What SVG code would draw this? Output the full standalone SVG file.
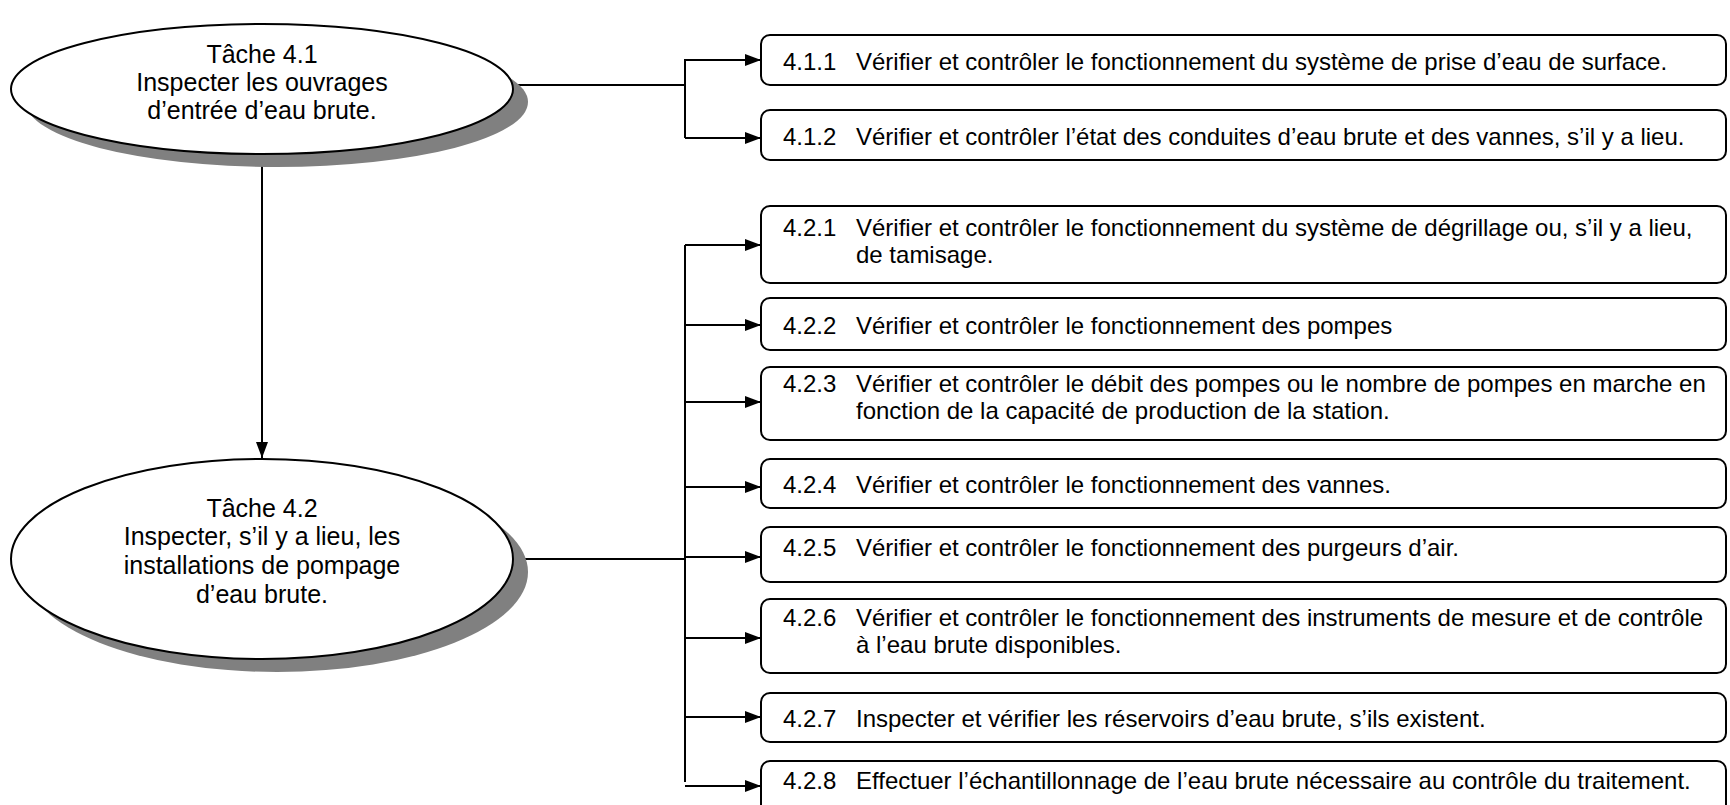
<svg xmlns="http://www.w3.org/2000/svg" width="1730" height="805" viewBox="0 0 1730 805">
  <style>
    text { font-family: "Liberation Sans", Arial, sans-serif; fill: #000; }
    .task { font-size: 25px; text-anchor: middle; }
    .item { font-size: 24px; }
    .oval { fill: #fff; stroke: #000; stroke-width: 2; }
    .shadow { fill: #808080; }
    .box { fill: #fff; stroke: #000; stroke-width: 2; }
    .conn { stroke: #000; stroke-width: 2; fill: none; }
    .arr { marker-end: url(#arrow); }
  </style>
  <defs>
    <marker id="arrow" viewBox="0 0 16 12" refX="16" refY="6" markerWidth="16" markerHeight="12" markerUnits="userSpaceOnUse" orient="auto">
      <path d="M0,0 L16,6 L0,12 Z" fill="#000"/>
    </marker>
  </defs>

  <!-- connectors -->
  <g id="connectors">
    <!-- task 4.1 to its sub-items -->
    <path class="conn" d="M513,85 H685"/>
    <path class="conn" d="M685,59 V138"/>
    <path class="conn arr" d="M685,60 H761"/>
    <path class="conn arr" d="M685,138 H761"/>
    <!-- task 4.1 to task 4.2 -->
    <path class="conn arr" d="M262,154 V458"/>
    <!-- task 4.2 to its sub-items -->
    <path class="conn" d="M513,559 H685"/>
    <path class="conn" d="M685,245 V782"/>
    <path class="conn arr" d="M685,245 H761"/>
    <path class="conn arr" d="M685,325 H761"/>
    <path class="conn arr" d="M685,402 H761"/>
    <path class="conn arr" d="M685,487 H761"/>
    <path class="conn arr" d="M685,557 H761"/>
    <path class="conn arr" d="M685,638 H761"/>
    <path class="conn arr" d="M685,717 H761"/>
    <path class="conn arr" d="M685,786 H761"/>
  </g>

  <!-- task ovals -->
  <g id="task-4-1">
    <ellipse class="shadow" cx="277" cy="102" rx="251" ry="65"/>
    <ellipse class="oval" cx="262" cy="89" rx="251" ry="65"/>
    <text class="task" x="262" y="63">Tâche 4.1</text>
    <text class="task" x="262" y="91">Inspecter les ouvrages</text>
    <text class="task" x="262" y="119">d’entrée d’eau brute.</text>
  </g>

  <g id="task-4-2">
    <ellipse class="shadow" cx="277" cy="572" rx="251" ry="100"/>
    <ellipse class="oval" cx="262" cy="559" rx="251" ry="100"/>
    <text class="task" x="262" y="517">Tâche 4.2</text>
    <text class="task" x="262" y="545">Inspecter, s’il y a lieu, les</text>
    <text class="task" x="262" y="574">installations de pompage</text>
    <text class="task" x="262" y="603">d’eau brute.</text>
  </g>

  <!-- sub-item boxes -->
  <g id="item-4-1-1">
    <rect class="box" x="761" y="35" width="965" height="50" rx="9"/>
    <text class="item" x="783" y="70">4.1.1</text>
    <text class="item" x="856" y="70">Vérifier et contrôler le fonctionnement du système de prise d’eau de surface.</text>
  </g>
  <g id="item-4-1-2">
    <rect class="box" x="761" y="110" width="965" height="50" rx="9"/>
    <text class="item" x="783" y="145">4.1.2</text>
    <text class="item" x="856" y="145">Vérifier et contrôler l’état des conduites d’eau brute et des vannes, s’il y a lieu.</text>
  </g>
  <g id="item-4-2-1">
    <rect class="box" x="761" y="206" width="965" height="77" rx="9"/>
    <text class="item" x="783" y="236">4.2.1</text>
    <text class="item" x="856" y="236">Vérifier et contrôler le fonctionnement du système de dégrillage ou, s’il y a lieu,</text>
    <text class="item" x="856" y="263">de tamisage.</text>
  </g>
  <g id="item-4-2-2">
    <rect class="box" x="761" y="298" width="965" height="52" rx="9"/>
    <text class="item" x="783" y="334">4.2.2</text>
    <text class="item" x="856" y="334">Vérifier et contrôler le fonctionnement des pompes</text>
  </g>
  <g id="item-4-2-3">
    <rect class="box" x="761" y="367" width="965" height="73" rx="9"/>
    <text class="item" x="783" y="392">4.2.3</text>
    <text class="item" x="856" y="392">Vérifier et contrôler le débit des pompes ou le nombre de pompes en marche en</text>
    <text class="item" x="856" y="419">fonction de la capacité de production de la station.</text>
  </g>
  <g id="item-4-2-4">
    <rect class="box" x="761" y="459" width="965" height="49" rx="9"/>
    <text class="item" x="783" y="493">4.2.4</text>
    <text class="item" x="856" y="493">Vérifier et contrôler le fonctionnement des vannes.</text>
  </g>
  <g id="item-4-2-5">
    <rect class="box" x="761" y="527" width="965" height="55" rx="9"/>
    <text class="item" x="783" y="556">4.2.5</text>
    <text class="item" x="856" y="556">Vérifier et contrôler le fonctionnement des purgeurs d’air.</text>
  </g>
  <g id="item-4-2-6">
    <rect class="box" x="761" y="599" width="965" height="74" rx="9"/>
    <text class="item" x="783" y="626">4.2.6</text>
    <text class="item" x="856" y="626">Vérifier et contrôler le fonctionnement des instruments de mesure et de contrôle</text>
    <text class="item" x="856" y="653">à l’eau brute disponibles.</text>
  </g>
  <g id="item-4-2-7">
    <rect class="box" x="761" y="693" width="965" height="49" rx="9"/>
    <text class="item" x="783" y="727">4.2.7</text>
    <text class="item" x="856" y="727">Inspecter et vérifier les réservoirs d’eau brute, s’ils existent.</text>
  </g>
  <g id="item-4-2-8">
    <rect class="box" x="761" y="761" width="965" height="70" rx="9"/>
    <text class="item" x="783" y="789">4.2.8</text>
    <text class="item" x="856" y="789">Effectuer l’échantillonnage de l’eau brute nécessaire au contrôle du traitement.</text>
  </g>
</svg>
